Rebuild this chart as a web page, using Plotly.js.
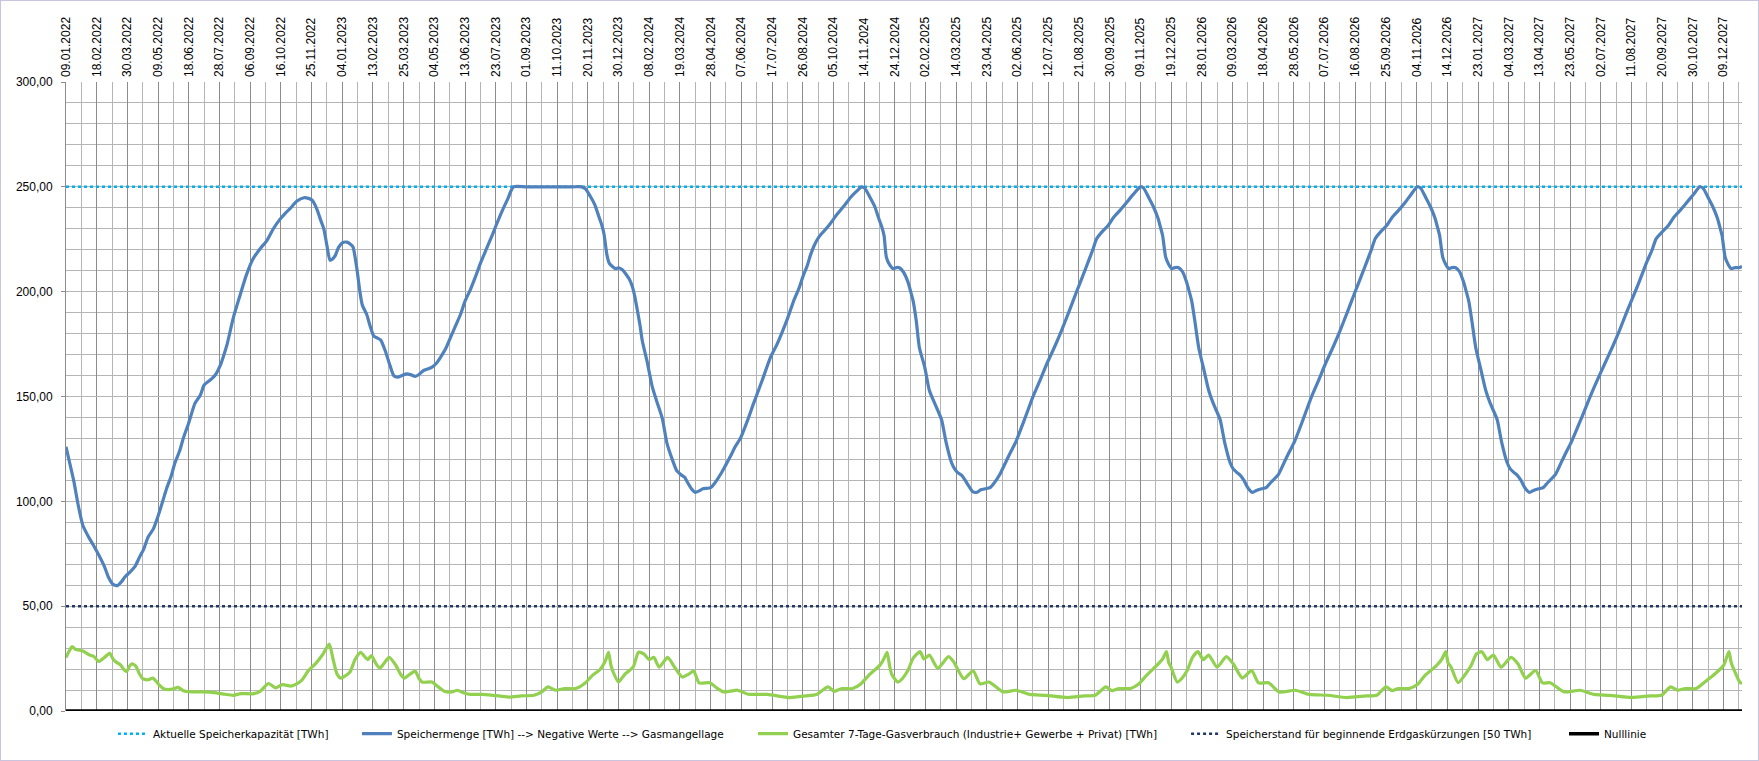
<!DOCTYPE html>
<html><head><meta charset="utf-8">
<script src="https://cdn.plot.ly/plotly-3.0.1.min.js"></script>
<style>
html,body{margin:0;padding:0;background:#fff;}
#wrap{position:absolute;left:0;top:0;width:1757px;height:759px;border:1px solid #cbc4df;}
#chart{width:1757px;height:759px;}
</style></head><body><div id="wrap"><div id="chart"></div></div>
<script>
// x values are day offsets from startDate
const startDate = '2022-01-09';
const endDay = 2184;

const seriesNames = [
  'Aktuelle Speicherkapazität [TWh]',
  'Speichermenge [TWh] --> Negative Werte --> Gasmangellage',
  'Gesamter 7-Tage-Gasverbrauch (Industrie+ Gewerbe + Privat) [TWh]',
  'Speicherstand für beginnende Erdgaskürzungen [50 TWh]',
  'Nulllinie'
];

const kapazitaet = [250, 250];
const kuerzungsschwelle = [50, 50];
const nulllinie = [0, 0];

// [day offset, TWh]
const speichermenge = [
[0,126],[5,118],[10,110],[16,98],[22,88.5],[28,84],[35,79.5],[44,73.5],[50,69],[55,64],[61,60.5],[67,59.8],[72,61.5],[77,64],[84,66.5],[90,69],[96,73.5],[101,77],[107,83],[114,87],[120,93],[126,100],[131,106],[137,112],[142,118.4],[148,124],[153,130.2],[160,137.5],[168,146.7],[175,150.6],[180,155.5],[185,157],[190,158.5],[195,160.5],[201,164.8],[205,169],[210,175],[218,187.5],[227,198.5],[235,207.9],[244,215.8],[253,220.5],[262,224.5],[270,229.9],[279,234.6],[286,237.5],[292,239.6],[301,243.2],[310,244.8],[316,244.5],[321,243.5],[327,239.3],[332,234],[336,229.9],[340,222],[344,215],[347,215.5],[351,217.3],[355,221],[360,223.3],[366,223.6],[371,222.5],[374,221.3],[379,211],[383,200],[386,193.8],[392,189],[396,184],[401,178.9],[406,177.8],[410,177],[416,171.8],[422,165],[427,160],[432,159.2],[438,160],[444,160.8],[450,160.3],[455,159.6],[460,160.5],[466,162.4],[472,163.2],[477,164],[483,166],[488,168.7],[495,173],[501,178.1],[508,184],[514,189.1],[520,195.5],[527,201],[534,207.5],[540,213.5],[548,220.5],[556,227.5],[562,233],[569,239],[576,244.5],[583,250],[600,250],[630,250],[660,250],[672,250],
[677,249],[683,245.6],[689,241.5],[694,236.2],[698,232],[701,227.6],[705,217.3],[708,213.5],[712,212],[716,211],[720,211.4],[725,210.5],[729,208.7],[734,206],[738,202.4],[741,198],[744,192.2],[748,184],[751,176.5],[757,167.1],[764,154.6],[770,147.5],[777,139.6],[783,127.9],[790,120],[796,114.5],[802,112.5],[806,111.5],[810,109],[815,106],[820,104.3],[825,105],[830,106],[835,106.2],[840,106.5],[845,108.5],[853,112.9],[860,117.5],[866,121.6],[872,126],[879,130.2],[888,138.5],[896,146.7],[907,157.5],[918,168.7],[926,174.5],[933,180.5],[941,188],[948,195.4],[955,201.5],[961,207.9],[966,212.5],[970,217.3],[975,222],[981,226],[988,229],[994,231.5],[1000,234.5],[1005,237],[1014,241],[1022,244.8],[1030,247.8],[1037,250],
[1041,249.3],[1048,244.8],[1054,240.5],[1059,235],[1063,231],[1066,226.8],[1069,216.5],[1073,213],[1078,211],[1082,211.5],[1086,211.4],[1091,209.5],[1097,204.8],[1100,201],[1104,195.4],[1108,186],[1112,173.4],[1119,164],[1125,153],[1132,146.7],[1137,142.5],[1141,138.9],[1147,127.9],[1154,118.4],[1158,115.5],[1162,113.7],[1167,112.5],[1171,110.5],[1176,107.5],[1182,104.5],[1187,104.3],[1192,105.5],[1198,106],[1204,106.5],[1210,109],[1217,112.9],[1225,119],[1231,123.5],[1238,128.6],[1249,139],[1260,149.8],[1269,157.5],[1278,165.5],[1288,173.5],[1297,181.2],[1307,190.5],[1317,200.1],[1325,207.5],[1332,214.2],[1338,220],[1343,225.2],[1350,228.5],[1358,231.5],[1365,235.4],[1374,239],[1382,242.5],[1391,246.5],[1400,250],
[1404,249.5],[1411,244.8],[1417,240.5],[1423,235],[1426,231],[1429,226.8],[1433,216.5],[1437,213],[1441,211],[1445,211.5],[1450,211.4],[1455,209.5],[1460,204.8],[1463,201],[1467,195.4],[1471,186],[1476,173.4],[1482,164],[1489,153],[1495,146.7],[1500,142.5],[1504,138.9],[1510,127.9],[1517,118.4],[1521,115.5],[1526,113.7],[1530,112.5],[1535,110],[1540,106.5],[1546,104.3],[1552,105.3],[1558,106],[1564,106.5],[1570,109],[1580,112.9],[1588,119],[1594,123.5],[1601,128.6],[1612,139],[1623,149.8],[1632,157.5],[1641,165.5],[1651,173.5],[1660,181.2],[1670,190.5],[1680,200.1],[1688,207.5],[1695,214.2],[1701,220],[1706,225.2],[1713,228.5],[1721,231.5],[1728,235.4],[1737,239],[1745,242.5],[1753,246.5],[1761,250],
[1765,249.5],[1772,244.8],[1778,240.5],[1784,235],[1787,231],[1790,226.8],[1794,216.5],[1798,213],[1802,211],[1806,211.5],[1811,211.4],[1816,209.5],[1821,204.8],[1824,201],[1828,195.4],[1832,186],[1837,173.4],[1843,164],[1850,153],[1856,146.7],[1861,142.5],[1865,138.9],[1871,127.9],[1878,118.4],[1882,115.5],[1887,113.7],[1891,112.5],[1896,110],[1901,106.5],[1907,104.3],[1913,105.3],[1919,106],[1925,106.5],[1931,109],[1941,112.9],[1949,119],[1955,123.5],[1962,128.6],[1974,139],[1986,149.8],[1995,157.5],[2005,165.5],[2015,173.5],[2024,181.2],[2034,190.5],[2045,200.1],[2053,207.5],[2060,214.2],[2067,220],[2072,225.2],[2080,228.5],[2088,231.5],[2095,235.4],[2104,239],[2112,242.5],[2121,246.5],[2129,250],
[2133,249.5],[2140,244.8],[2146,240.5],[2152,235],[2155,231],[2158,226.8],[2162,216.5],[2166,213],[2170,211],[2175,211.5],[2180,211.4],[2184,212]
];

// [day offset, TWh]
const gasverbrauch = [
[0,25.5],[4,28.5],[8,30.7],[12,29.5],[16,29.1],[22,28.6],[27,27.5],[31,26.7],[36,26.1],[40,24.5],[43,23.6],[50,25.5],[57,27.5],[61,25],[64,23.7],[71,22],[76,19.5],[79,18.9],[83,21.5],[86,22.5],[91,21.4],[96,17.5],[100,15.4],[107,14.9],[113,15.7],[118,14],[121,12.6],[128,10.5],[139,10.4],[146,11.3],[153,9.7],[164,9.1],[178,9.1],[193,8.8],[207,8.0],[218,7.5],[228,8.3],[243,8.2],[253,9.4],[264,13.1],[273,11],[282,12.6],[293,11.9],[300,12.8],[307,14.6],[316,19.3],[325,22.5],[335,27.2],[343,31.9],[348,24.8],[353,17.8],[358,15.7],[363,16.5],[370,18.6],[377,24.8],[384,28],[389,26],[393,24.5],[398,26.4],[404,22.5],[409,20.4],[415,23],[421,25.6],[430,21.7],[436,17.5],[441,15.7],[448,17.5],[455,19],[460,15.5],[464,13.8],[477,13.8],[485,11.5],[493,9.4],[503,9.1],[510,9.9],[518,8.7],[525,8.0],[543,7.9],[564,7.2],[578,6.6],[593,7.2],[610,7.5],[621,9.4],[628,11.5],[638,9.9],[650,10.7],[664,10.7],[677,13.5],[686,17],[696,19.8],[703,24.1],[707,28],[710,22],[713,18.6],[720,13.8],[725,16],[729,17.8],[739,20.9],[746,28],[753,27.2],[760,24.5],[766,25.6],[773,20.9],[784,25.6],[793,20.9],[803,16.2],[811,17.5],[818,19],[825,13.4],[839,13.5],[848,11],[857,9.1],[866,9.5],[875,9.9],[889,8.0],[914,7.9],[943,6.4],[964,7.2],[978,7.9],[993,11.5],[1001,9.4],[1011,10.7],[1025,10.7],[1036,13],[1046,17],[1061,22],[1066,25],[1070,28],[1073,22],[1076,17.5],[1084,13.8],[1090,15.5],[1097,19.3],[1104,25.2],[1113,28.3],[1118,24.8],[1125,26.7],[1136,20.4],[1150,25.9],[1157,23.3],[1170,15.4],[1182,19.2],[1191,13],[1203,13.8],[1221,9.1],[1238,9.9],[1256,7.9],[1277,7.5],[1305,6.4],[1327,7.2],[1341,7.5],[1355,11.5],[1363,9.7],[1372,10.7],[1387,10.7],[1397,12.6],[1408,17],[1422,22],[1429,24.8],[1434,28.3],[1437,23],[1440,20.9],[1448,13.8],[1454,15.5],[1461,19.3],[1468,25.6],[1475,28.3],[1482,24.5],[1489,26.7],[1500,20.9],[1512,25.9],[1521,22.5],[1533,15.7],[1545,19.3],[1554,13.4],[1567,13.5],[1581,9.1],[1602,9.9],[1620,7.9],[1644,7.5],[1669,6.4],[1694,7.2],[1708,7.5],[1720,11.5],[1728,9.7],[1736,10.7],[1750,10.7],[1761,12.6],[1771,17],[1786,21.7],[1793,24.8],[1798,28.3],[1801,23],[1805,20.9],[1814,13.5],[1824,17.8],[1831,21.7],[1838,27.2],[1845,28.3],[1852,24.5],[1860,26.7],[1870,20.9],[1883,25.6],[1892,22.5],[1902,15.7],[1915,19.3],[1924,13.4],[1934,13.5],[1952,9.1],[1973,9.9],[1991,7.9],[2012,7.5],[2040,6.4],[2064,7.2],[2079,7.5],[2091,11.5],[2100,9.9],[2110,10.7],[2124,10.7],[2138,14.6],[2149,17.8],[2160,21.7],[2167,28.3],[2170,23],[2174,19.3],[2181,13.8],[2184,13]
];

const t0 = Date.parse(startDate + 'T00:00:00Z');
function dayToDate(d){ return new Date(t0 + d*86400000).toISOString().slice(0,10); }
const edgeDates = [dayToDate(0), dayToDate(endDay)];

const traces = [
  {x: edgeDates, y: kapazitaet, name: seriesNames[0], mode:'lines', legend:'legend',
   line:{color:'#00b0f0', width:2.5, dash:'dot'}},
  {x: speichermenge.map(p=>dayToDate(p[0])), y: speichermenge.map(p=>p[1]), name: seriesNames[1], mode:'lines', legend:'legend2',
   line:{color:'#4f81bd', width:3.2, shape:'spline', smoothing:0.6}},
  {x: gasverbrauch.map(p=>dayToDate(p[0])), y: gasverbrauch.map(p=>p[1]), name: seriesNames[2], mode:'lines', legend:'legend3',
   line:{color:'#92d050', width:3.2, shape:'spline', smoothing:0.6}},
  {x: edgeDates, y: kuerzungsschwelle, name: seriesNames[3], mode:'lines', legend:'legend4',
   line:{color:'#1f3864', width:2.5, dash:'dot'}},
  {x: edgeDates, y: nulllinie, name: seriesNames[4], mode:'lines', legend:'legend5',
   line:{color:'#000000', width:3.5}}
];

const legendFont = {family:'DejaVu Sans, sans-serif', size:10.5, color:'#000'};
function legendAt(xp){
  return {orientation:'h', x:xp, xanchor:'left', y:-0.036, yanchor:'middle',
          font:legendFont, bgcolor:'rgba(0,0,0,0)', itemwidth:30};
}

const layout = {
  width:1757, height:759,
  margin:{l:65, r:16, t:81, b:41},
  paper_bgcolor:'#ffffff', plot_bgcolor:'#ffffff',
  separators:',.',
  showlegend:true,
  hovermode:false,
  xaxis:{
    type:'date', side:'top', range: edgeDates,
    tick0: startDate, dtick: 40*86400000, tickformat:'%d.%m.%Y', tickangle:-90,
    showgrid:true, gridcolor:'#8c8c8c', gridwidth:1,
    minor:{tick0:startDate, dtick:20*86400000, showgrid:true, gridcolor:'#b5b5b5', gridwidth:1},
    ticks:'', ticklabelstandoff:4,
    tickfont:{family:'Liberation Sans, Arial, sans-serif', size:12, color:'#000'},
    zeroline:false, showline:false, fixedrange:true
  },
  yaxis:{
    range:[0,300], dtick:50, tickformat:'.2f',
    showgrid:true, gridcolor:'#b5b5b5', gridwidth:1,
    minor:{dtick:10, showgrid:true, gridcolor:'#b5b5b5', gridwidth:1},
    ticks:'outside', ticklen:4, tickcolor:'#8c8c8c', ticklabelstandoff:6,
    showline:true, linecolor:'#8c8c8c', linewidth:1,
    tickfont:{family:'Liberation Sans, Arial, sans-serif', size:12, color:'#000'},
    zeroline:false, fixedrange:true
  },
  legend: legendAt(0.0280),
  legend2: legendAt(0.1736),
  legend3: legendAt(0.4099),
  legend4: legendAt(0.6683),
  legend5: legendAt(0.8938)
};

Plotly.newPlot('chart', traces, layout, {displayModeBar:false, staticPlot:true});
</script></body></html>
